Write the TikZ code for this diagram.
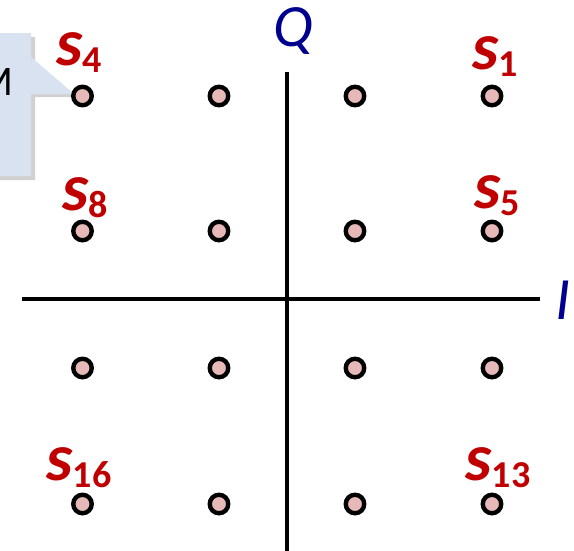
\documentclass[tikz,border=0pt]{standalone}
\usepackage{fontspec}
\setmainfont{Carlito}
\newcommand{\slabel}[1]{s\raisebox{-7pt}{\fontsize{38}{38}\selectfont\upshape #1}}
\begin{document}
\begin{tikzpicture}[x=1pt,y=-1pt,
  pt/.style={circle,draw=black,line width=4.4pt,fill=dotpink,minimum size=18.5pt,inner sep=0pt},
  slab/.style={text=sred,font=\fontsize{67}{67}\selectfont\bfseries\itshape,inner sep=0pt},
  axlab/.style={text=navyb,font=\fontsize{60}{60}\selectfont\itshape,inner sep=0pt},
  axis/.style={line width=3.4pt,black}]
\definecolor{dotpink}{HTML}{E6B9B8}
\definecolor{sred}{HTML}{C00000}
\definecolor{navyb}{HTML}{000090}
\definecolor{callblue}{HTML}{D9E2F1}
\useasboundingbox (0,0) rectangle (574,550);
% callout
\fill[black!30,opacity=0.6] (-5,37) -- (35,37) -- (35,61) -- (77,97) -- (35,97) -- (35,180) -- (-5,180) -- cycle;
\fill[callblue] (-5,33) -- (31,33) -- (31,57) -- (74,94) -- (31,94) -- (31,176) -- (-5,176) -- cycle;
\node[anchor=center,font=\fontsize{42}{42}\selectfont,inner sep=0pt] (m) at (-5,82) {M};
% axes
\coordinate (xl) at (22,299);
\coordinate (xr) at (540,299);
\coordinate (yt) at (287,72);
\coordinate (yb) at (287,552);
\draw[axis] (xl) -- (xr);
\draw[axis] (yt) -- (yb);
\node[axlab] (q) at (293,31) {Q};
\node[axlab] (i) at (563,300) {I};
% points
\foreach \c/\x in {1/82.5,2/219,3/355,4/492}{
  \foreach \r/\y in {1/96,2/231,3/368,4/504}{
    \node[pt] (p\r\c) at (\x,\y) {};
  }
}
% labels
\node[slab] (s4) at (79,53) {\slabel{4}};
\node[slab] (s1) at (495,57) {\slabel{1}};
\node[slab] (s8) at (85,198) {\slabel{8}};
\node[slab] (s5) at (497,196) {\slabel{5}};
\node[slab] (s16) at (79,468) {\slabel{16}};
\node[slab] (s13) at (498,468) {\slabel{13}};
\end{tikzpicture}
\end{document}
